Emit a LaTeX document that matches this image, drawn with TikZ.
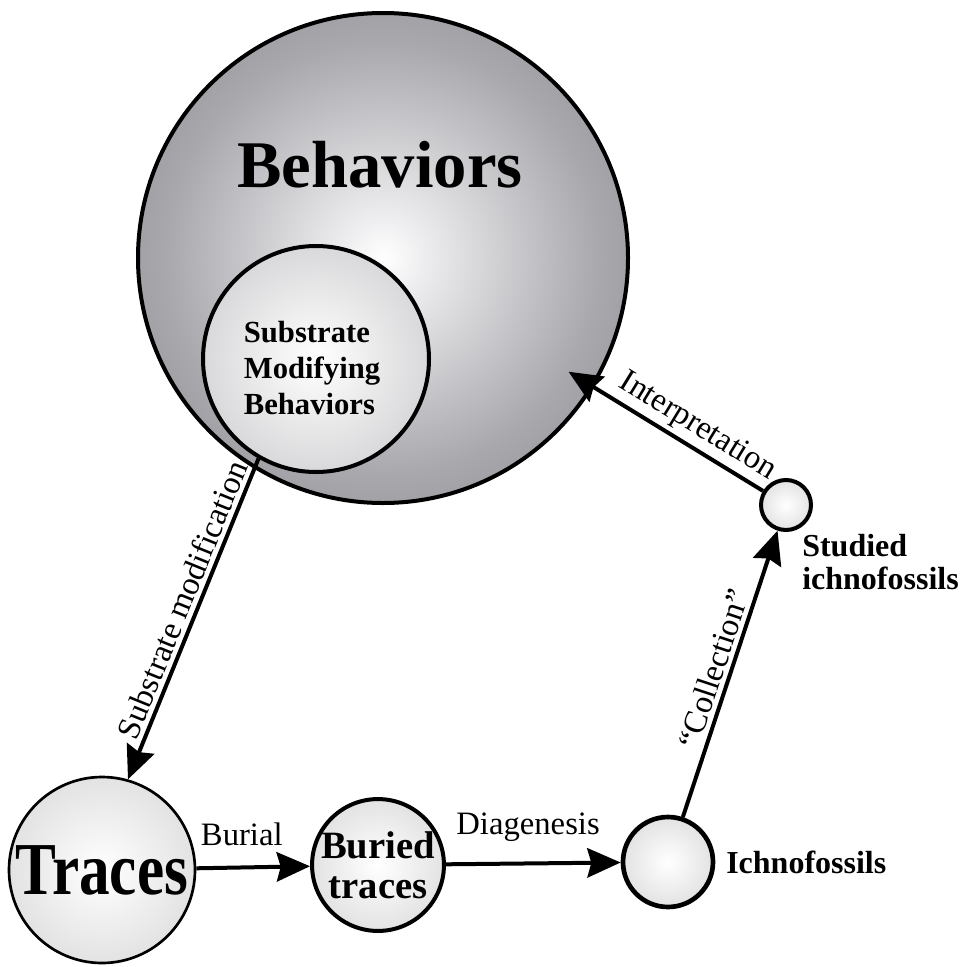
\documentclass[tikz,border=0pt]{standalone}
\usepackage{fontspec}
\setmainfont{Liberation Serif}
\newfontfamily\narrowserif[FakeStretch=0.82]{Liberation Serif}
\usetikzlibrary{arrows.meta}
\definecolor{bigout}{RGB}{104,105,111}
\definecolor{bigmid}{RGB}{168,168,173}
\definecolor{bigcore}{RGB}{238,238,240}
\definecolor{midout}{RGB}{178,178,182}
\definecolor{lightout}{RGB}{198,198,201}
\pgfdeclareradialshading{bigball}{\pgfpoint{0bp}{0bp}}{color(0bp)=(white); color(4bp)=(bigcore); color(22bp)=(bigmid); color(50bp)=(bigout)}
\pgfdeclareradialshading{midball}{\pgfpoint{0bp}{0bp}}{color(0bp)=(white); color(50bp)=(midout)}
\pgfdeclareradialshading{lightball}{\pgfpoint{0bp}{0bp}}{color(0bp)=(white); color(50bp)=(lightout)}
\newcommand{\lblfont}{\fontsize{24.5}{26}\selectfont}
\newcommand{\namefont}{\bfseries\fontsize{24}{25}\selectfont}

\begin{document}
\begin{tikzpicture}[x=0.75pt, y=-0.75pt,
  ball/.style={circle, draw, inner sep=0pt, line width=#1},
  arr/.style={-{Stealth[length=25pt, width=22pt, inset=3pt]}, line width=3pt},
  lbl/.style={font=\lblfont, inner sep=3pt}]
\useasboundingbox (0,0) rectangle (962,967);
% behaviours and their substrate-modifying part
\node[ball=3pt, shading=bigball, minimum size=367.5pt] (beh) at (383,258) {};
\node[font=\bfseries\fontsize{50}{50}\selectfont] (behtxt) at (380,165) {Behaviors};
\node[ball=3pt, shading=midball, minimum size=169.5pt] (smb) at (316,359) {};
\node[align=left, font=\bfseries\fontsize{23}{27}\selectfont] (smbtxt) at (312,368) {Substrate\\ Modifying\\ Behaviors};
% trace chain along the bottom
\node[ball=2pt, shading=lightball, minimum size=139.5pt,
  font=\narrowserif\bfseries\fontsize{56}{56}\selectfont] (trc) at (102,870) {Traces};
\node[ball=3pt, shading=lightball, minimum size=93pt, align=center,
  font=\bfseries\fontsize{29}{30}\selectfont] (bur) at (378,865) {Buried\\ traces};
\node[ball=3.5pt, shading=lightball, minimum size=67.5pt] (ich) at (668,862) {};
\node[font=\namefont, anchor=west, inner sep=0pt] (ichtxt) at (726,862) {Ichnofossils};
\node[ball=3pt, shading=lightball, minimum size=37.5pt] (stu) at (786,505) {};
\node[font=\namefont, align=left, anchor=north west, inner sep=0pt] (stutxt) at (802,534) {Studied\\ ichnofossils};
% connectors
\draw[arr] (smb.240) -- node[lbl, sloped, above, pos=0.46] {Substrate modification} (trc.74);
\draw[arr] (trc) -- node[lbl, above=12pt, pos=0.4] {Burial} (bur);
\draw[arr] (bur) -- node[lbl, above=12pt, pos=0.47] {Diagenesis} (ich);
\draw[arr] (ich) -- node[lbl, sloped, above] {``Collection''} (stu);
\draw[arr, shorten >=-22pt] (stu) -- node[lbl, sloped, above, pos=0.45] {Interpretation} (beh);
\end{tikzpicture}
\end{document}
